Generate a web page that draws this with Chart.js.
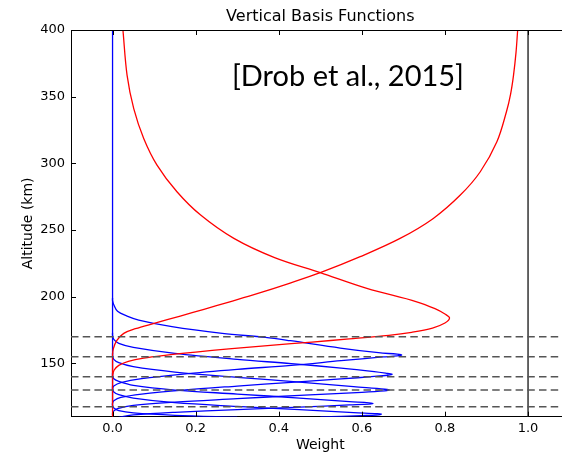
<!DOCTYPE html>
<html>
<head>
<meta charset="utf-8">
<script src="https://cdn.jsdelivr.net/npm/chart.js@4"></script>
<style>
  html, body { margin: 0; padding: 0; background: #fff; overflow: hidden; }
  #wrap { width: 580px; height: 452px; }
</style>
</head>
<body>
<div id="wrap"><canvas id="basisChart" width="580" height="452"></canvas></div>
<script>
// basis functions as [weight, altitude km]
// zero stretches are kept short so the x=0 line is not drawn many times over
const blue1 = [[0,400],[0,199],[0,197],[0.003,194],[0.012,189],[0.035,185.5],[0.063,182.5],[0.143,177.5],[0.264,172.5],[0.368,169.5],[0.428,167],[0.548,161.5],[0.64,158],[0.685,156.9],[0.696,156.3],[0.685,155.6],[0.65,154.8],[0.55,152],[0.43,148.5],[0.3,145.5],[0.17,142],[0.07,138.5],[0.02,135.5],[0.003,133],[0,131],[0,129]];
const blue2 = [[0,199],[0,173],[0,171],[0.003,168],[0.015,165],[0.05,162],[0.15,157.5],[0.3,153],[0.43,149.8],[0.55,146.5],[0.63,143.8],[0.662,142.4],[0.673,141.8],[0.662,141.1],[0.63,140.2],[0.55,138.3],[0.43,135.8],[0.3,133],[0.17,130],[0.07,127],[0.02,124.5],[0.003,122],[0,120],[0,118]];
const blue3 = [[0,173],[0,158],[0,156],[0.003,153],[0.015,150.5],[0.05,147.5],[0.15,143.5],[0.3,139.5],[0.45,136],[0.58,132.5],[0.655,130.6],[0.666,130],[0.655,129.4],[0.6,128.3],[0.45,126],[0.3,123.5],[0.15,121],[0.05,118.5],[0.012,116],[0.002,114],[0,112.5],[0,111]];
const blue4 = [[0,158],[0,143],[0,141],[0.003,138.5],[0.015,136.5],[0.05,133.5],[0.15,130],[0.3,127],[0.45,124],[0.57,121.3],[0.617,120.4],[0.627,119.9],[0.617,119.4],[0.57,118.8],[0.45,117.2],[0.3,115.3],[0.15,113.3],[0.05,111.3],[0.015,109.5]];
const blue5 = [[0,143],[0,133],[0,131],[0.003,128.5],[0.015,126.5],[0.05,124],[0.15,120.5],[0.3,117.7],[0.45,115.3],[0.58,113],[0.637,112.3],[0.647,111.8],[0.635,111.2],[0.6,110.8],[0.5,109.8]];
const blue6 = [[0,133],[0,120.5],[0,118.5],[0.003,116.5],[0.015,114.5],[0.05,112.8],[0.15,111],[0.3,109.6]];
const red1 = [[0.025,400],[0.035,366],[0.051,341],[0.075,318.7],[0.107,298.7],[0.155,278.7],[0.212,261.2],[0.292,243.7],[0.39,229.3],[0.5,218],[0.612,206.2],[0.732,196.2],[0.776,191],[0.8,187],[0.811,184],[0.8,180.3],[0.77,176.5],[0.72,173.3],[0.665,171],[0.57,168.3],[0.48,166],[0.38,163.5],[0.28,160.8],[0.2,158.5],[0.13,156.2],[0.075,154],[0.038,151.5],[0.015,148.5],[0.004,145],[0,141],[0,139]];
const red2 = [[0.975,400],[0.971,383],[0.965,366],[0.958,352],[0.948,338.7],[0.925,316.2],[0.885,293.7],[0.837,276.2],[0.772,258.7],[0.692,243.7],[0.596,230],[0.5,218],[0.42,209.5],[0.35,202.5],[0.28,196],[0.22,190.5],[0.163,185.5],[0.1,180],[0.055,176],[0.027,172.5],[0.01,167],[0.002,161],[0,156],[0,154],[0,110]];

const nodeAltitudes = [170, 155, 140, 130, 117.5];
const unityWeight = 1.0;

const xTicks = [0, 0.2, 0.4, 0.6, 0.8, 1.0];
const yTicks = [150, 200, 250, 300, 350, 400];
const xMin = -0.1, xMax = 1.1;
const yMin = 110, yMax = 400;

const chartTitle = "Vertical Basis Functions";
const citation = "[Drob et al., 2015]";

const toXY = pts => pts.map(p => ({ x: p[0], y: p[1] }));

function curve(pts, color, order) {
  return {
    data: toXY(pts),
    showLine: true,
    borderColor: color,
    borderWidth: 1.3,
    pointRadius: 0,
    tension: 0.35,
    fill: false,
    order: order
  };
}

const datasets = [];
[blue1, blue2, blue3, blue4, blue5, blue6].forEach(b => datasets.push(curve(b, "#0000ff", 3)));
[red1, red2].forEach(r => datasets.push(curve(r, "#ff0000", 2)));

nodeAltitudes.forEach(a => {
  datasets.push({
    data: [{ x: xMin, y: a }, { x: xMax, y: a }],
    showLine: true,
    borderColor: "#555555",
    borderWidth: 1.5,
    borderDash: [7.5, 4.2],
    pointRadius: 0,
    order: 1
  });
});

datasets.push({
  data: [{ x: unityWeight, y: yMin }, { x: unityWeight, y: yMax }],
  showLine: true,
  borderColor: "#333333",
  borderWidth: 1.5,
  pointRadius: 0,
  order: 1
});

const FONT = "'DejaVu Sans', sans-serif";

// inward ticks, top frame, title and citation
const frame = {
  id: "frame",
  afterDraw(chart) {
    const { ctx, chartArea: ca, scales } = chart;
    ctx.save();
    ctx.strokeStyle = "#000";
    ctx.lineWidth = 1;
    ctx.beginPath();
    ctx.moveTo(ca.left, ca.top + 0.5);
    ctx.lineTo(chart.width, ca.top + 0.5);
    const tl = 5;
    scales.x.ticks.forEach(t => {
      const px = Math.round(scales.x.getPixelForValue(t.value)) + 0.5;
      ctx.moveTo(px, ca.bottom);
      ctx.lineTo(px, ca.bottom - tl);
      ctx.moveTo(px, ca.top);
      ctx.lineTo(px, ca.top + tl);
    });
    scales.y.ticks.forEach(t => {
      const py = Math.round(scales.y.getPixelForValue(t.value)) + 0.5;
      ctx.moveTo(ca.left, py);
      ctx.lineTo(ca.left + tl, py);
    });
    ctx.stroke();

    ctx.fillStyle = "#000";
    ctx.font = "16px " + FONT;
    ctx.textAlign = "center";
    ctx.textBaseline = "middle";
    ctx.fillText(chartTitle, (ca.left + ca.right) / 2, 17);

    ctx.font = "29px Lato, 'Open Sans', sans-serif";
    ctx.textAlign = "left";
    ctx.fillText(citation, 232, 77);
    ctx.restore();
  }
};

new Chart(document.getElementById("basisChart"), {
  type: "scatter",
  data: { datasets },
  options: {
    responsive: false,
    animation: false,
    layout: { padding: { top: 30, right: 10.4, left: 0, bottom: 0 } },
    plugins: { legend: { display: false }, tooltip: { enabled: false } },
    scales: {
      x: {
        type: "linear",
        min: xMin,
        max: xMax,
        grid: { display: false, drawTicks: false },
        border: { display: true, color: "#000", width: 1 },
        ticks: {
          autoSkip: false,
          maxRotation: 0,
          padding: 4,
          color: "#000",
          font: { family: FONT, size: 13 },
          callback: v => v.toFixed(1)
        },
        afterBuildTicks: s => { s.ticks = xTicks.map(v => ({ value: v })); },
        title: {
          display: true,
          text: "Weight",
          color: "#000",
          font: { family: FONT, size: 14 },
          padding: { top: 0, bottom: -2 }
        },
        afterFit: s => { s.height = 35.3; }
      },
      y: {
        type: "linear",
        min: yMin,
        max: yMax,
        grid: { display: false, drawTicks: false },
        border: { display: true, color: "#000", width: 1 },
        ticks: {
          autoSkip: false,
          padding: 6,
          color: "#000",
          font: { family: FONT, size: 13 }
        },
        afterBuildTicks: s => { s.ticks = yTicks.map(v => ({ value: v })); },
        title: {
          display: true,
          text: "Altitude (km)",
          color: "#000",
          font: { family: FONT, size: 14 },
          padding: { top: 20, bottom: 0 }
        },
        afterFit: s => { s.width = 71; }
      }
    }
  },
  plugins: [frame]
});
</script>
</body>
</html>
